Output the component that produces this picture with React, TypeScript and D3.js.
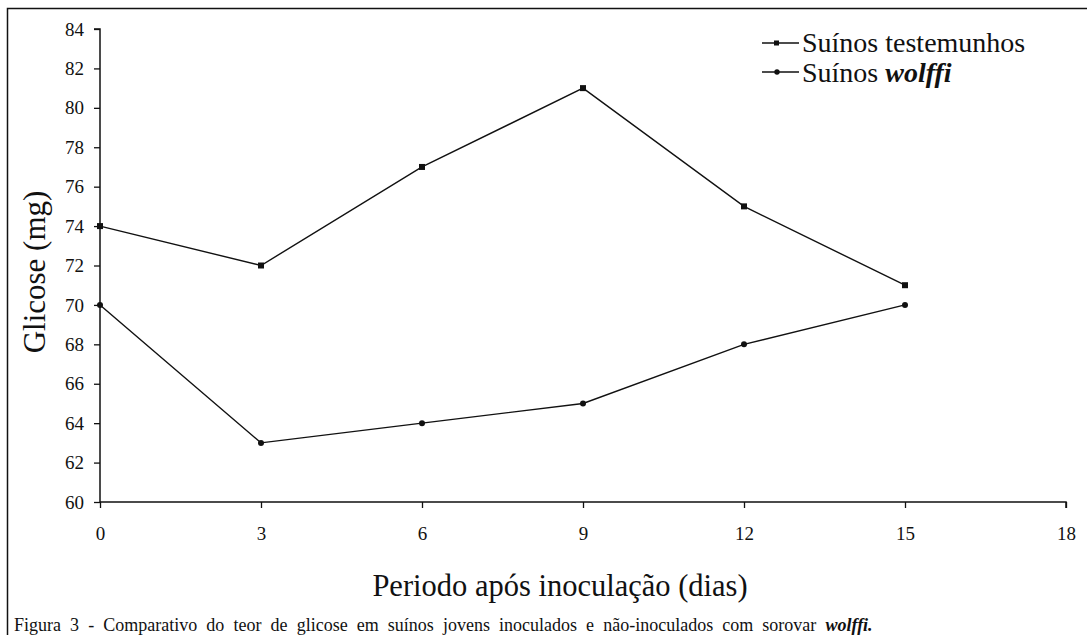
import React, { useRef, useEffect } from 'react'
import { select, scaleLinear, line, axisBottom, axisLeft } from 'd3'

const days = [0, 3, 6, 9, 12, 15]
const testemunhos = [74, 72, 77, 81, 75, 71]
const wolffi = [70, 63, 64, 65, 68, 70]
const xTicks = [0, 3, 6, 9, 12, 15, 18]
const yTicks = [60, 62, 64, 66, 68, 70, 72, 74, 76, 78, 80, 82, 84]

const W = 1087
const H = 635
const FONT = '"Liberation Serif", "Times New Roman", serif'

function App() {
  const svgRef = useRef<SVGSVGElement>(null)

  useEffect(() => {
    const svg = select(svgRef.current)
    svg.selectAll('*').remove()

    const x = scaleLinear().domain([0, 18]).range([100, 1066])
    const y = scaleLinear().domain([60, 84]).range([502, 29])

    // outer frame
    svg.append('path')
      .attr('d', `M7.5,${H} V8.5 H${W}`)
      .attr('fill', 'none')
      .attr('stroke', '#111')
      .attr('stroke-width', 1.5)

    const xAxis = axisBottom(x).tickValues(xTicks).tickSize(6).tickPadding(19)
    const gx = svg.append('g')
      .attr('transform', `translate(0,${y(60)})`)
      .call(xAxis)
    gx.select('.domain').attr('d', `M${x(0)},0H${x(18)}V6`).attr('stroke-width', 1.5)

    const yAxis = axisLeft(y).tickValues(yTicks).tickSize(6).tickPadding(10)
    const gy = svg.append('g')
      .attr('transform', `translate(${x(0)},0)`)
      .call(yAxis)
    gy.select('.domain').attr('d', `M-6,${y(84)}H0V${y(60)}`).attr('stroke-width', 1.5)

    svg.selectAll('.tick text')
      .style('font-family', FONT)
      .style('font-size', '19px')
      .attr('fill', '#111')
    svg.selectAll('.tick line').attr('stroke', '#111').attr('stroke-width', 1.3)
    svg.selectAll('.domain').attr('stroke', '#111')

    const mk = line<number>()
      .x((d, i) => x(days[i]))
      .y(d => y(d))

    svg.append('path')
      .datum(testemunhos)
      .attr('d', mk)
      .attr('fill', 'none')
      .attr('stroke', '#111')
      .attr('stroke-width', 1.4)
    svg.append('path')
      .datum(wolffi)
      .attr('d', mk)
      .attr('fill', 'none')
      .attr('stroke', '#111')
      .attr('stroke-width', 1.4)

    svg.selectAll('.sq')
      .data(testemunhos)
      .join('rect')
      .attr('class', 'sq')
      .attr('x', (d, i) => x(days[i]) - 3)
      .attr('y', d => y(d) - 3)
      .attr('width', 6)
      .attr('height', 6)
      .attr('fill', '#111')
    svg.selectAll('.dot')
      .data(wolffi)
      .join('circle')
      .attr('class', 'dot')
      .attr('cx', (d, i) => x(days[i]))
      .attr('cy', d => y(d))
      .attr('r', 3)
      .attr('fill', '#111')

    // legend
    const lg = svg.append('g')
    const rows = [{ y: 43, sq: true }, { y: 72, sq: false }]
    rows.forEach(r => {
      lg.append('line')
        .attr('x1', 762).attr('x2', 799)
        .attr('y1', r.y).attr('y2', r.y)
        .attr('stroke', '#111').attr('stroke-width', 1.4)
      if (r.sq) {
        lg.append('rect').attr('x', 774).attr('y', r.y - 2.5).attr('width', 5).attr('height', 5).attr('fill', '#111')
      } else {
        lg.append('circle').attr('cx', 777).attr('cy', r.y).attr('r', 2.7).attr('fill', '#111')
      }
    })
    lg.append('text')
      .attr('x', 802).attr('y', 52)
      .style('font-family', FONT).style('font-size', '28px').attr('fill', '#111')
      .text('Suínos testemunhos')
    const t2 = lg.append('text')
      .attr('x', 802).attr('y', 82)
      .style('font-family', FONT).style('font-size', '28px').attr('fill', '#111')
    t2.append('tspan').text('Suínos ')
    t2.append('tspan').attr('font-weight', 'bold').attr('font-style', 'italic').text('wolffi')

    // axis titles
    svg.append('text')
      .attr('transform', `translate(45,272) rotate(-90)`)
      .attr('text-anchor', 'middle')
      .style('font-family', FONT).style('font-size', '31px').attr('fill', '#111')
      .text('Glicose (mg)')
    svg.append('text')
      .attr('x', 560).attr('y', 596)
      .attr('text-anchor', 'middle')
      .style('font-family', FONT).style('font-size', '30.5px').attr('fill', '#111')
      .text('Periodo após inoculação (dias)')

    // caption
    const cap = svg.append('text')
      .attr('x', 14).attr('y', 631)
      .style('font-family', FONT).style('font-size', '18px').style('word-spacing', '4.6px').attr('fill', '#111')
    cap.append('tspan').text('Figura 3 - Comparativo do teor de glicose em suínos jovens inoculados e não-inoculados com sorovar ')
    cap.append('tspan').attr('font-weight', 'bold').attr('font-style', 'italic').text('wolffi.')
  }, [])

  return (
    <svg
      ref={svgRef}
      width={W}
      height={H}
      style={{ position: 'absolute', left: 0, top: 0, background: '#fff' }}
    />
  )
}

export default App
